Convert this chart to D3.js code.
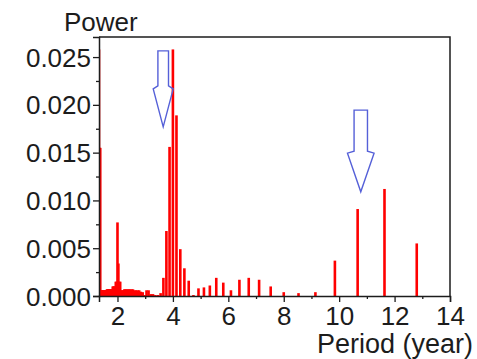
<!DOCTYPE html>
<html><head><meta charset="utf-8">
<script src="https://cdn.jsdelivr.net/npm/d3@7/dist/d3.min.js"></script>
<style>body{margin:0;background:#fff}svg{display:block}</style>
</head><body><svg id="c" width="477" height="359"></svg>
<script>
// Periods (years) of the spectral bars
const periods = [
  1.333,1.347,1.362,1.376,1.391,1.407,1.422,1.438,1.455,1.471,1.488,1.506,1.524,1.542,1.561,1.580,
  1.600,1.620,1.641,1.662,1.684,1.707,1.730,1.753,1.778,1.803,1.829,1.855,1.882,1.910,1.939,1.969,
  2.000,2.032,2.065,2.098,2.133,2.169,2.207,2.246,2.286,2.327,2.370,2.415,2.462,2.510,2.560,2.612,
  2.667,2.723,2.783,2.844,2.909,2.977,3.048,3.122,3.200,3.282,3.368,3.459,3.556,3.657,3.765,3.879,
  4.000,4.129,4.267,4.414,4.571,4.741,4.923,5.120,5.333,5.565,5.818,6.095,6.400,6.737,7.111,7.529,
  8.000,8.533,9.143,9.846,10.667,11.636,12.800
];
// Power values for each period
const power = [
  0.0258,0.0155,0.0155,0.0155,0.0006,0.0006,0.0006,0.0006,0.0006,0.0006,0.0006,0.0006,0.0006,0.0006,0.0006,0.0006,
  0.0006,0.0007,0.0007,0.0007,0.0007,0.0007,0.0007,0.0007,0.0007,0.0007,0.0010,0.0010,0.0010,0.0010,0.0015,0.0015,
  0.0077,0.0034,0.0015,0.0015,0.0006,0.0006,0.0006,0.0007,0.0007,0.0007,0.0007,0.0007,0.0007,0.0007,0.0007,0.0006,
  0.0006,0.0006,0.0006,0.00045,0.0004,0.0001,0.0006,0.0006,0.0002,0.0002,0.0001,0.0001,0.0003,0.0019,0.0068,0.0156,
  0.0258,0.0189,0.0049,0.0029,0.0016,0.0001,0.0008,0.0009,0.0011,0.0019,0.0014,0.0006,0.0017,0.0019,0.0017,0.0010,
  0.0004,0.0003,0.0004,0.0037,0.0091,0.0112,0.0055
];
const yTicks = [0, 0.005, 0.010, 0.015, 0.020, 0.025];
const yMinorTicks = [0.0025, 0.0075, 0.0125, 0.0175, 0.0225];
const xTicks = [2, 4, 6, 8, 10, 12, 14];
const xMinorTicks = [3, 5, 7, 9, 11, 13];
const arrowTips = [[3.65, 0.0177], [10.78, 0.0109]];
const yLabel = "Power";
const xLabel = "Period (year)";

const svg = d3.select("#c");
const L = 99, R = 450, T = 37, B = 296;
const x = d3.scaleLinear().domain([1.333, 14]).range([L, R]);
const y = d3.scaleLinear().domain([0, 0.0271]).range([B, T]);
const font = "'Liberation Sans', Arial, sans-serif";
const ink = "#1c1c1c";

svg.append("defs").append("clipPath").attr("id", "clip")
  .append("rect").attr("x", L).attr("y", T).attr("width", R - L).attr("height", B - T);

const bw = 2.6;
svg.append("g").attr("clip-path", "url(#clip)")
  .selectAll("rect").data(periods.map((p, i) => [p, power[i]])).join("rect")
  .attr("x", d => x(d[0]) - bw / 2)
  .attr("width", bw)
  .attr("y", d => y(d[1]))
  .attr("height", d => B - y(d[1]))
  .attr("fill", "#ff0000");

// frame
svg.append("path").attr("d", `M${L},${T}H${R}V${B}`).attr("fill", "none")
  .attr("stroke", ink).attr("stroke-width", 1.5);

// y axis
const ya = svg.append("g").attr("transform", `translate(${L},0)`)
  .call(d3.axisLeft(y).tickValues(yTicks).tickSize(6).tickFormat(d3.format(".3f")));
svg.append("g").attr("transform", `translate(${L},0)`)
  .call(d3.axisLeft(y).tickValues(yMinorTicks).tickSize(3).tickFormat(""))
  .call(g => g.select(".domain").remove());
// x axis
const xa = svg.append("g").attr("transform", `translate(0,${B})`)
  .call(d3.axisBottom(x).tickValues(xTicks).tickSize(6).tickFormat(d3.format("d")));
svg.append("g").attr("transform", `translate(0,${B})`)
  .call(d3.axisBottom(x).tickValues(xMinorTicks).tickSize(3).tickFormat(""))
  .call(g => g.select(".domain").remove());

svg.selectAll(".domain").attr("stroke", ink).attr("stroke-width", 1.5);
svg.selectAll(".tick line").attr("stroke", ink).attr("stroke-width", 1.3);
ya.selectAll(".tick text").attr("x", -8).attr("dy", "0.35em")
  .attr("font-family", font).attr("font-size", 26).attr("fill", ink);
xa.selectAll(".tick text").attr("y", 29).attr("dy", 0)
  .attr("font-family", font).attr("font-size", 26).attr("fill", ink);

svg.append("text").attr("x", 64).attr("y", 31).text(yLabel)
  .attr("font-family", font).attr("font-size", 26).attr("fill", ink);
svg.append("text").attr("x", 473).attr("y", 353).attr("text-anchor", "end").text(xLabel)
  .attr("font-family", font).attr("font-size", 27).attr("fill", ink);

// arrows
const arrowDims = [
  {sw: 5.3, hw: 10, h: 76, wing: 38, sb: 41},
  {sw: 6.7, hw: 13.3, h: 81.7, wing: 38.7, sb: 40.7}
];
arrowTips.forEach((t, i) => {
  const a = arrowDims[i], tx = x(t[0]), ty = y(t[1]);
  const pts = [
    [tx - a.sw, ty - a.h], [tx + a.sw, ty - a.h], [tx + a.sw, ty - a.sb],
    [tx + a.hw, ty - a.wing], [tx, ty], [tx - a.hw, ty - a.wing], [tx - a.sw, ty - a.sb]
  ];
  svg.append("polygon").attr("points", pts.map(p => p.join(",")).join(" "))
    .attr("fill", "none").attr("stroke", "#5560d8").attr("stroke-width", 1.4)
    .attr("stroke-linejoin", "miter");
});
</script></body></html>
